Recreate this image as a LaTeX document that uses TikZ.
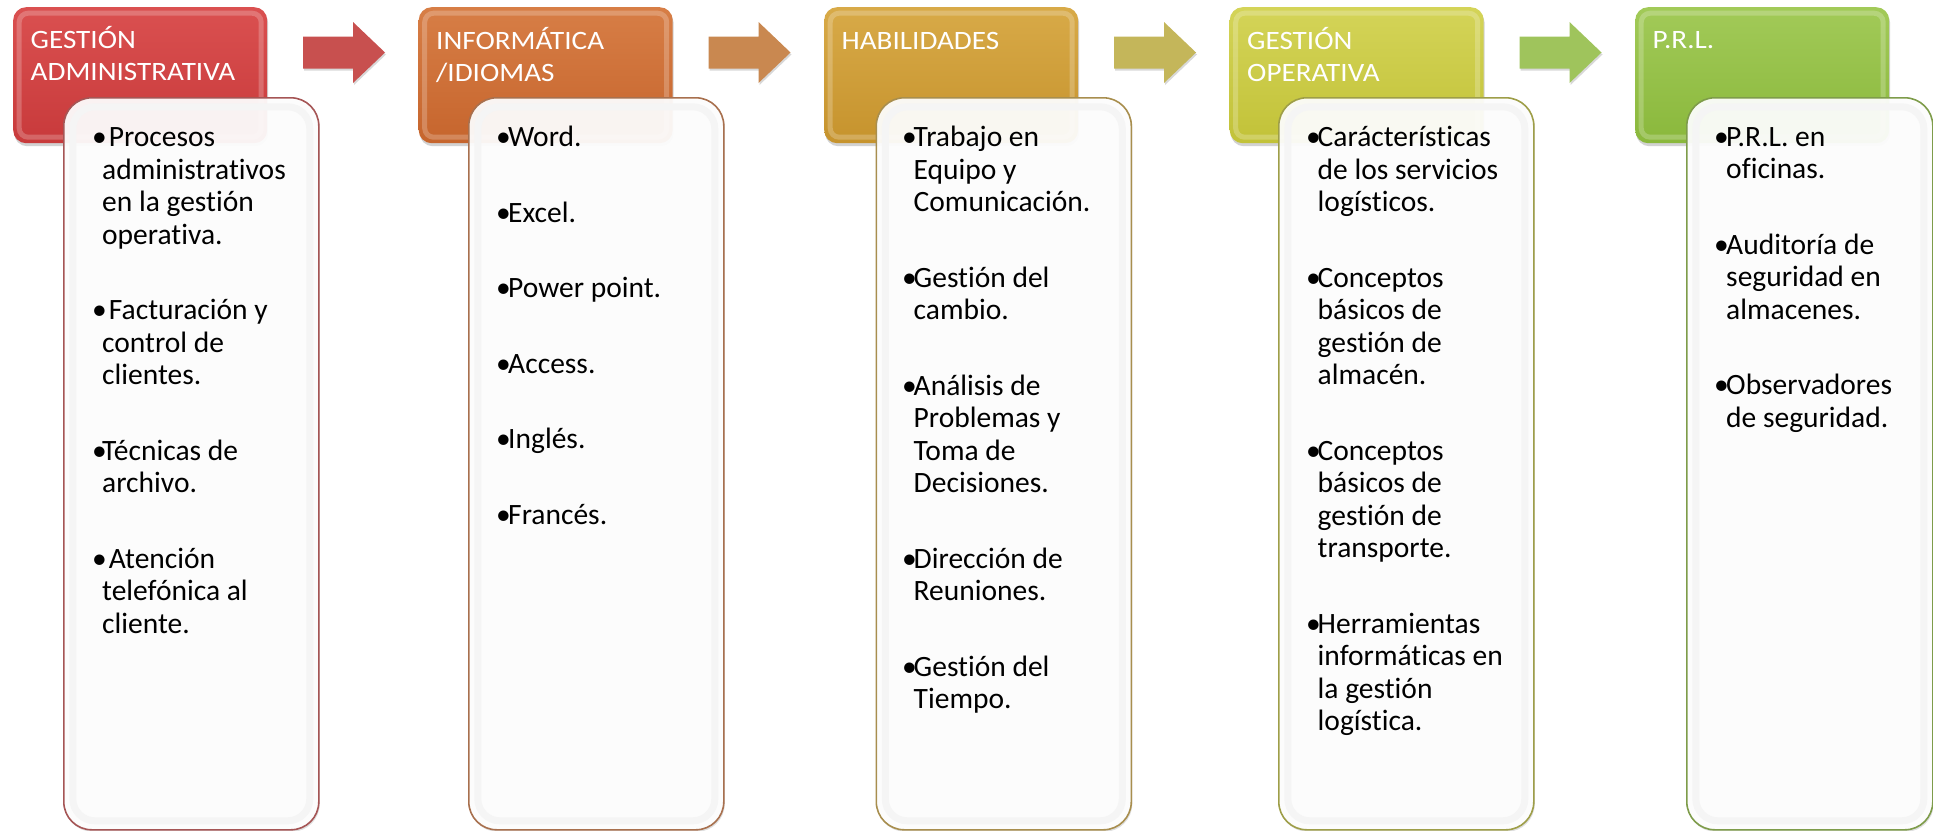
\documentclass[tikz,border=0pt]{standalone}
\usepackage{fontspec}
\setmainfont{Carlito}[Ligatures=NoCommon]
\newfontfamily\fhead[FakeStretch=1.1,Ligatures=NoCommon]{Carlito}
\newfontfamily\fa[Ligatures=NoCommon]{Carlito}
\usetikzlibrary{shadows}
\newlength\hw
\newcommand\bitem[1]{\par\hangindent=\hw\hangafter=1\noindent\makebox[\hw][l]{•}#1}
\newcommand\bodyfont{\fa\fontsize{29.5}{32.5}\selectfont\setlength\parskip{43pt}}
\definecolor{h1}{HTML}{C83A3B}\definecolor{h1t}{HTML}{DA5050}
\definecolor{h2}{HTML}{C6652D}\definecolor{h2t}{HTML}{D77E46}
\definecolor{h3}{HTML}{C6932D}\definecolor{h3t}{HTML}{D8AA48}
\definecolor{h4}{HTML}{C2C238}\definecolor{h4t}{HTML}{D4D458}
\definecolor{h5}{HTML}{8AB83C}\definecolor{h5t}{HTML}{A2CA58}
\definecolor{a1}{HTML}{C8504F}\definecolor{a2}{HTML}{C98850}
\definecolor{a3}{HTML}{C4B65A}\definecolor{a4}{HTML}{9FC45C}
\definecolor{b1}{HTML}{A55555}\definecolor{b2}{HTML}{A8704E}
\definecolor{b3}{HTML}{A88E4E}\definecolor{b4}{HTML}{9E9E48}
\definecolor{b5}{HTML}{7E9C4A}
\tikzset{
  hdr/.style 2 args={anchor=north west, minimum width=254pt, minimum height=136pt,
    rounded corners=13pt, inner sep=0pt, top color=#2, bottom color=#1,
    drop shadow={shadow xshift=1pt, shadow yshift=-3pt, opacity=0.35},
    path picture={\draw[white, opacity=0.22, line width=5pt, rounded corners=9pt]
      ([shift={(6pt,-6pt)}]path picture bounding box.north west) rectangle
      ([shift={(-6pt,6pt)}]path picture bounding box.south east);}},
  cbox/.style={anchor=north west, minimum width=255pt, minimum height=732pt,
    rounded corners=28pt, inner sep=0pt, draw=#1, line width=1.6pt,
    fill=white, fill opacity=0.93,
    drop shadow={shadow xshift=1pt, shadow yshift=-2pt, opacity=0.25},
    path picture={\draw[black!4, line width=7pt, rounded corners=22pt]
      ([shift={(9pt,-9pt)}]path picture bounding box.north west) rectangle
      ([shift={(-9pt,9pt)}]path picture bounding box.south east);}},
  htext/.style={anchor=base west, inner sep=0pt, text=white},
  btext/.style={anchor=base west, inner sep=0pt, text=black},
  blockarrow/.style={fill=#1, drop shadow={shadow xshift=1pt, shadow yshift=-2pt, opacity=0.3}}
}
\begin{document}
\begin{tikzpicture}[x=1pt,y=-1pt]
\useasboundingbox (0,0) rectangle (1933,830);
\fill[white] (0,0) rectangle (1933,830);

% arrows
\foreach \k/\c in {0/a1,1/a2,2/a3,3/a4}{
  \fill[blockarrow=\c] ({303+405.5*\k},36.5) -- ({353+405.5*\k},36.5) -- ({353+405.5*\k},22)
    -- ({385+405.5*\k},52.5) -- ({353+405.5*\k},83) -- ({353+405.5*\k},68.5)
    -- ({303+405.5*\k},68.5) -- cycle;
}

% headers
\node[hdr={h1}{h1t}] (h1) at (13,7) {};
\node[hdr={h2}{h2t}] (h2) at (418.5,7) {};
\node[hdr={h3}{h3t}] (h3) at (824,7) {};
\node[hdr={h4}{h4t}] (h4) at (1229.5,7) {};
\node[hdr={h5}{h5t}] (h5) at (1635,7) {};

\node[htext] (l1) at (30.5,48.5) {\parbox[t]{240pt}{\raggedright\fhead\fontsize{26.5}{32}\selectfont GESTIÓN\newline ADMINISTRATIVA}};
\node[htext] (l2) at (436,49.3) {\parbox[t]{240pt}{\raggedright\fhead\fontsize{26.5}{32}\selectfont INFORMÁTICA\newline /IDIOMAS}};
\node[htext] (l3) at (841.5,49.3) {\parbox[t]{240pt}{\raggedright\fhead\fontsize{26.5}{32}\selectfont HABILIDADES}};
\node[htext] (l4) at (1247,49.3) {\parbox[t]{240pt}{\raggedright\fhead\fontsize{26.5}{32}\selectfont GESTIÓN\newline OPERATIVA}};
\node[htext] (l5) at (1652.5,48.5) {\parbox[t]{240pt}{\raggedright\fhead\fontsize{26.5}{32}\selectfont P.R.L.}};

% content boxes
\node[cbox=b1] (c1) at (63,97) {};
\node[cbox=b2] (c2) at (468,97) {};
\node[cbox=b3] (c3) at (875.5,97) {};
\node[cbox=b4] (c4) at (1278,97) {};
\node[cbox=b5, minimum width=246pt] (c5) at (1686,97) {};

% texts
\node[btext] (t1) at (92,146.5) {\parbox[t]{222pt}{\raggedright\bodyfont\setlength\hw{10pt}%
  \bitem{\ Procesos\newline administrativos\newline en la gestión\newline operativa.}
  \bitem{\ Facturación y\newline control de\newline clientes.}
  \bitem{Técnicas de\newline archivo.}
  \bitem{\ Atención\newline telefónica al\newline cliente.}}};

\node[btext] (t2) at (496,146.5) {\parbox[t]{222pt}{\raggedright\bodyfont\setlength\hw{12pt}%
  \bitem{Word.}
  \bitem{Excel.}
  \bitem{Power point.}
  \bitem{Access.}
  \bitem{Inglés.}
  \bitem{Francés.}}};

\node[btext] (t3) at (902,146.5) {\parbox[t]{222pt}{\raggedright\bodyfont\setlength\hw{11.5pt}%
  \bitem{Trabajo en\newline Equipo y\newline Comunicación.}
  \bitem{Gestión del\newline cambio.}
  \bitem{Análisis de\newline Problemas y\newline Toma de\newline Decisiones.}
  \bitem{Dirección de\newline Reuniones.}
  \bitem{Gestión del\newline Tiempo.}}};

\node[btext] (t4) at (1306,146.5) {\parbox[t]{222pt}{\raggedright\bodyfont\setlength\hw{11.5pt}%
  \bitem{Carácterísticas\newline de los servicios\newline logísticos.}
  \bitem{Conceptos\newline básicos de\newline gestión de\newline almacén.}
  \bitem{Conceptos\newline básicos de\newline gestión de\newline transporte.}
  \bitem{Herramientas\newline informáticas en\newline la gestión\newline logística.}}};

\node[btext] (t5) at (1714,146) {\parbox[t]{212pt}{\raggedright\bodyfont\setlength\hw{12pt}%
  \bitem{P.R.L. en\newline oficinas.}
  \bitem{Auditoría de\newline seguridad en\newline almacenes.}
  \bitem{Observadores\newline de seguridad.}}};
\end{tikzpicture}
\end{document}
